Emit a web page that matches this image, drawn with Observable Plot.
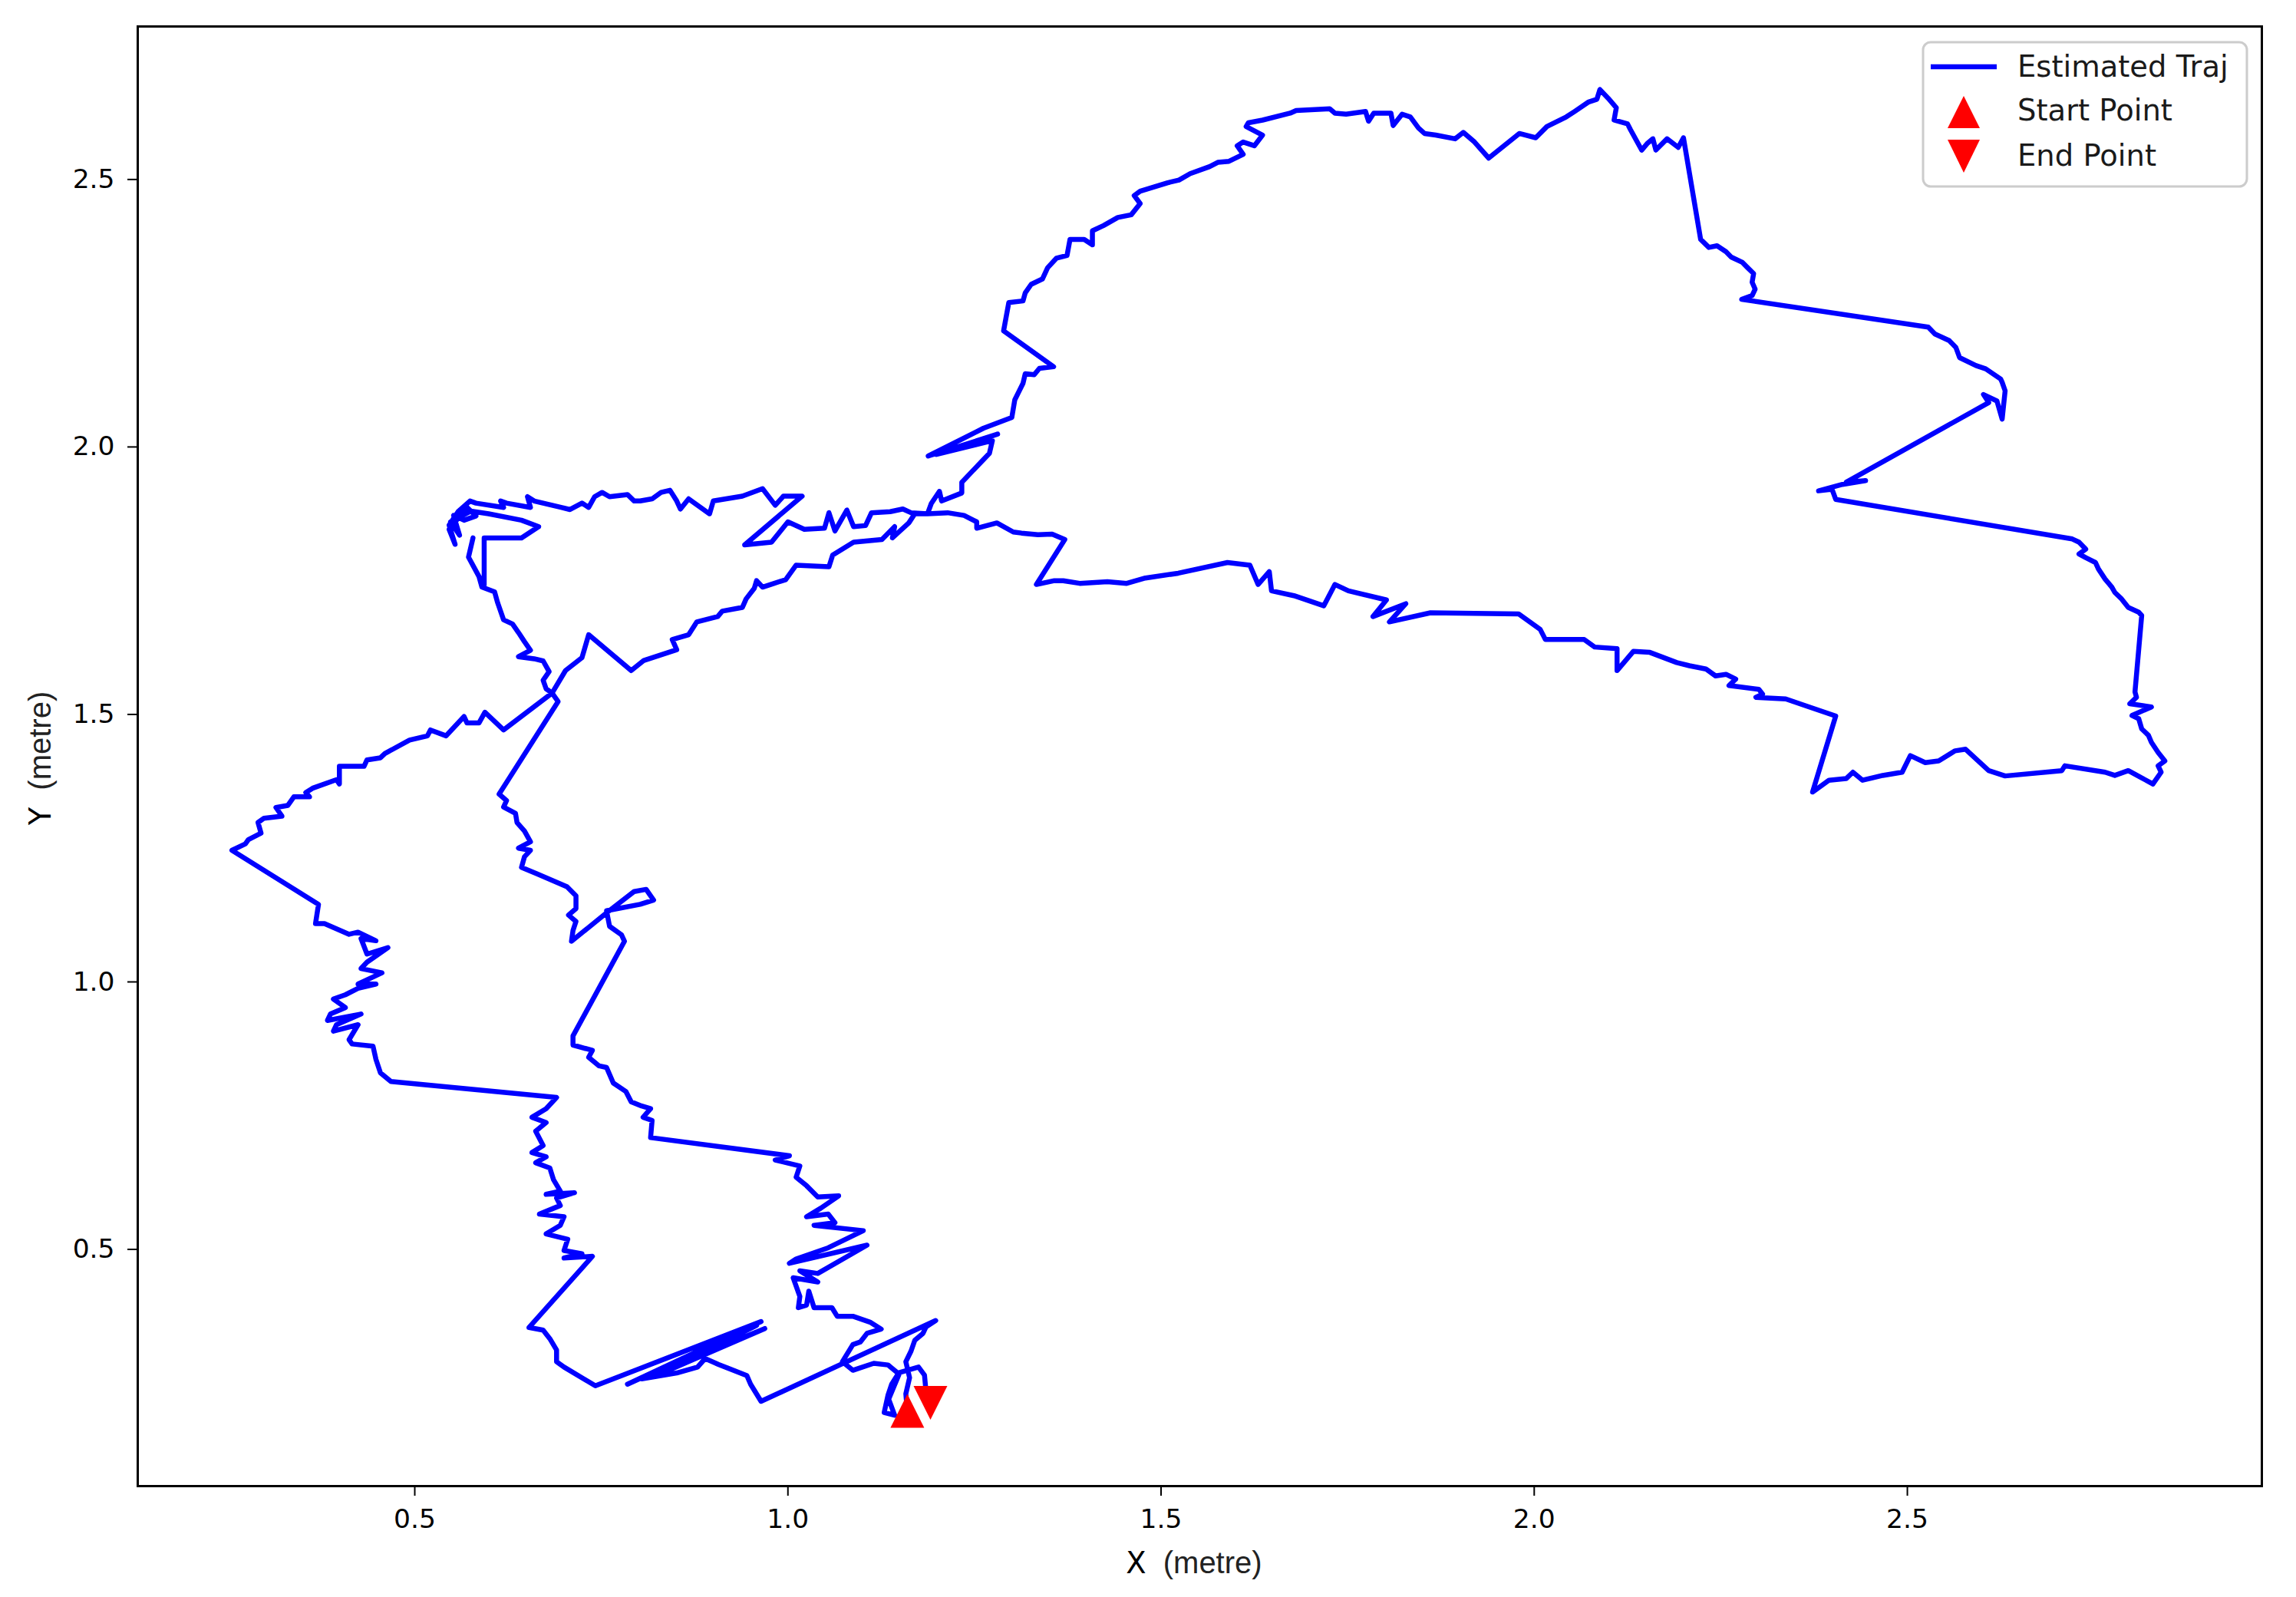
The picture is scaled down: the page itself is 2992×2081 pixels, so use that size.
<!DOCTYPE html>
<html>
<head>
<meta charset="utf-8">
<script src="https://cdn.jsdelivr.net/npm/d3@7"></script>
<script src="https://cdn.jsdelivr.net/npm/@observablehq/plot@0.6"></script>
<style>
  html, body { margin: 0; padding: 0; background: #ffffff; }
  #chart svg { display: block; }
</style>
</head>
<body>
<div id="chart"></div>
<script>
// ---- Data, in metres ----
const xTicks = [0.5, 1.0, 1.5, 2.0, 2.5];
const yTicks = [0.5, 1.0, 1.5, 2.0, 2.5];
const xDomain = [0.1288, 2.975];
const yDomain = [0.0575, 2.786];

const startPoint = [1.160, 0.198];
const endPoint = [1.191, 0.213];

const legStart = [[1.160,0.198],[1.158,0.230],[1.163,0.260],[1.158,0.290],[1.165,0.310],[1.170,0.330],[1.181,0.343],[1.185,0.355],[1.198,0.367]];

const legBottom = [[0.964,0.216],[0.950,0.248],[0.945,0.264],[0.907,0.285],[0.889,0.296],[0.879,0.280],[0.851,0.269],[0.804,0.258],[0.969,0.352],[0.820,0.262],[0.958,0.358],[0.785,0.248],[0.964,0.365],[0.742,0.245],[0.700,0.280],[0.690,0.290],[0.690,0.312],[0.681,0.333],[0.672,0.349],[0.653,0.354]];

const legLowerLeft = [[0.738,0.487],[0.700,0.484],[0.724,0.492],[0.700,0.498],[0.705,0.519],[0.676,0.529],[0.695,0.545],[0.700,0.561],[0.667,0.566],[0.695,0.582],[0.690,0.596],[0.714,0.606],[0.676,0.603],[0.695,0.609],[0.686,0.630],[0.681,0.652],[0.662,0.662],[0.676,0.673],[0.657,0.681],[0.672,0.694],[0.662,0.721],[0.676,0.737],[0.657,0.747],[0.676,0.763],[0.690,0.784]];

const legLeft = [[0.468,0.814],[0.454,0.830],[0.448,0.855],[0.444,0.880],[0.416,0.884],[0.412,0.892],[0.424,0.920],[0.391,0.908],[0.395,0.920],[0.428,0.940],[0.383,0.928],[0.387,0.940],[0.407,0.952],[0.391,0.968],[0.407,0.976],[0.424,0.988],[0.448,0.996],[0.424,0.996],[0.456,1.017],[0.428,1.025],[0.436,1.037],[0.464,1.064],[0.436,1.052],[0.428,1.081],[0.448,1.077],[0.424,1.093],[0.412,1.089],[0.379,1.109],[0.367,1.109],[0.371,1.145],[0.255,1.246],[0.273,1.258],[0.277,1.266],[0.294,1.278],[0.290,1.298],[0.298,1.306],[0.322,1.310],[0.314,1.326],[0.330,1.330],[0.338,1.346],[0.359,1.346],[0.354,1.354],[0.363,1.362],[0.395,1.378],[0.399,1.370],[0.399,1.403],[0.432,1.403],[0.436,1.415],[0.454,1.419],[0.460,1.427],[0.493,1.452],[0.517,1.460],[0.521,1.471],[0.542,1.460],[0.566,1.496],[0.570,1.484],[0.586,1.484],[0.594,1.504],[0.619,1.471],[0.684,1.540]];

const legLowerArm = [[0.702,1.582],[0.724,1.606],[0.733,1.649],[0.790,1.582],[0.807,1.601],[0.829,1.611],[0.851,1.621],[0.845,1.640],[0.867,1.649],[0.878,1.673],[0.906,1.683],[0.912,1.693],[0.939,1.700],[0.944,1.716],[0.955,1.736],[0.958,1.750],[0.966,1.738],[0.997,1.752],[1.011,1.779],[1.055,1.776],[1.060,1.798],[1.088,1.822],[1.126,1.827],[1.143,1.851],[1.140,1.830],[1.162,1.858],[1.170,1.875],[1.187,1.875]];

const legMiddle = [[1.214,1.877],[1.236,1.872],[1.253,1.860],[1.253,1.848],[1.280,1.858],[1.302,1.841],[1.313,1.839],[1.335,1.836],[1.354,1.837],[1.371,1.827],[1.333,1.743],[1.357,1.750],[1.369,1.750],[1.391,1.745],[1.428,1.748],[1.454,1.745],[1.479,1.755],[1.523,1.764],[1.589,1.784],[1.619,1.779],[1.630,1.743],[1.645,1.767],[1.648,1.731],[1.678,1.722],[1.718,1.703],[1.733,1.743],[1.751,1.731],[1.802,1.714],[1.784,1.683],[1.828,1.707],[1.806,1.673],[1.861,1.690],[1.979,1.688],[2.008,1.659],[2.015,1.640],[2.067,1.640],[2.081,1.626],[2.111,1.623],[2.111,1.582],[2.133,1.618],[2.155,1.616],[2.191,1.597],[2.208,1.591],[2.230,1.585],[2.243,1.572],[2.257,1.575],[2.270,1.566],[2.261,1.554],[2.301,1.547],[2.306,1.538],[2.297,1.532],[2.337,1.529],[2.364,1.516],[2.404,1.497]];

const legRight = [[2.373,1.355],[2.395,1.377],[2.418,1.380],[2.427,1.392],[2.440,1.377],[2.467,1.386],[2.493,1.392],[2.504,1.423],[2.524,1.410],[2.542,1.413],[2.564,1.432],[2.578,1.435],[2.609,1.395],[2.631,1.385],[2.707,1.395],[2.711,1.404],[2.765,1.392],[2.778,1.386],[2.796,1.395],[2.829,1.370],[2.840,1.392],[2.836,1.404],[2.845,1.413],[2.836,1.429],[2.827,1.448],[2.823,1.461],[2.814,1.473],[2.810,1.492],[2.801,1.498],[2.827,1.514],[2.798,1.520],[2.807,1.532],[2.805,1.542],[2.814,1.685],[2.810,1.691],[2.796,1.700],[2.787,1.716],[2.778,1.728],[2.774,1.738],[2.765,1.753],[2.756,1.772],[2.752,1.784],[2.739,1.793],[2.730,1.800],[2.739,1.809],[2.730,1.822],[2.721,1.828]];

const legUpperRight = [[2.404,1.902],[2.399,1.921],[2.381,1.918],[2.413,1.930],[2.444,1.937],[2.418,1.934],[2.609,2.083],[2.602,2.098],[2.620,2.086],[2.627,2.052],[2.631,2.105],[2.627,2.121],[2.625,2.127],[2.605,2.146],[2.592,2.152],[2.570,2.167],[2.565,2.186],[2.556,2.199],[2.537,2.211],[2.528,2.224],[2.278,2.276],[2.292,2.283],[2.296,2.295],[2.292,2.308],[2.294,2.324],[2.286,2.335],[2.279,2.345],[2.264,2.355],[2.257,2.365],[2.245,2.376],[2.234,2.373],[2.223,2.388]];

const legTop = [[2.200,2.578],[2.193,2.560],[2.178,2.576],[2.163,2.555],[2.159,2.576],[2.152,2.568],[2.144,2.555],[2.129,2.593],[2.125,2.604],[2.107,2.611],[2.110,2.634],[2.099,2.652],[2.088,2.668],[2.084,2.650],[2.073,2.645],[2.054,2.627],[2.043,2.617],[2.017,2.599],[2.002,2.578],[1.980,2.586],[1.939,2.540],[1.920,2.570],[1.905,2.588],[1.894,2.576],[1.868,2.583],[1.853,2.586],[1.845,2.596],[1.834,2.617],[1.823,2.622],[1.811,2.601],[1.808,2.624],[1.785,2.624],[1.778,2.609],[1.774,2.627],[1.748,2.622],[1.733,2.624],[1.726,2.632],[1.681,2.629],[1.673,2.624],[1.636,2.611],[1.617,2.606],[1.614,2.599],[1.636,2.583],[1.625,2.563],[1.610,2.570],[1.602,2.563],[1.610,2.547],[1.591,2.534],[1.576,2.532],[1.565,2.524],[1.539,2.511],[1.524,2.499],[1.509,2.494],[1.472,2.478],[1.464,2.470],[1.472,2.455],[1.460,2.434],[1.442,2.429],[1.423,2.414],[1.408,2.404],[1.408,2.378],[1.397,2.388],[1.378,2.388],[1.374,2.358],[1.360,2.353],[1.348,2.335],[1.341,2.314],[1.326,2.304],[1.318,2.288],[1.315,2.273],[1.296,2.270],[1.289,2.217]];

const legUpperMid = [[1.356,2.150],[1.337,2.147],[1.330,2.135],[1.318,2.137],[1.315,2.119],[1.304,2.088],[1.300,2.055],[1.262,2.035],[1.188,1.983],[1.281,2.024],[1.199,1.986],[1.274,2.012],[1.270,1.988],[1.233,1.934],[1.233,1.914],[1.206,1.899],[1.203,1.917],[1.192,1.894],[1.187,1.875]];

const legUpperLeft = [[1.165,1.877],[1.154,1.884],[1.137,1.879],[1.112,1.877],[1.104,1.853],[1.088,1.851],[1.079,1.882],[1.063,1.843],[1.055,1.877],[1.049,1.848],[1.022,1.846],[1.000,1.860],[0.978,1.822],[0.942,1.817],[1.019,1.908],[0.994,1.908],[0.983,1.891],[0.966,1.922],[0.939,1.908],[0.900,1.899],[0.895,1.875],[0.867,1.903],[0.856,1.884],[0.851,1.899],[0.842,1.919],[0.830,1.915],[0.818,1.903],[0.802,1.899],[0.794,1.899],[0.785,1.911],[0.761,1.907],[0.751,1.915],[0.741,1.907],[0.733,1.887],[0.724,1.895],[0.708,1.883],[0.696,1.887],[0.660,1.899],[0.651,1.907],[0.655,1.887],[0.623,1.895],[0.615,1.899],[0.619,1.887],[0.582,1.895]];

const legCluster = [[0.574,1.899],[0.558,1.879],[0.546,1.854],[0.554,1.818],[0.546,1.846],[0.570,1.887],[0.582,1.871],[0.566,1.863],[0.552,1.872],[0.560,1.835],[0.548,1.860],[0.575,1.880],[0.599,1.875],[0.643,1.863],[0.666,1.851],[0.643,1.830],[0.593,1.830],[0.593,1.742],[0.586,1.758],[0.572,1.794],[0.578,1.830],[0.572,1.794],[0.586,1.758],[0.590,1.738]];

const legDown = [[0.607,1.729],[0.611,1.709],[0.619,1.677],[0.631,1.669],[0.639,1.653],[0.647,1.636],[0.655,1.620],[0.639,1.608],[0.660,1.604],[0.672,1.600],[0.680,1.580],[0.672,1.564],[0.676,1.548],[0.684,1.540]];

const legReturn = [[0.692,1.524],[0.613,1.351],[0.623,1.339],[0.619,1.327],[0.635,1.315],[0.637,1.298],[0.647,1.282],[0.655,1.262],[0.639,1.250],[0.655,1.246],[0.647,1.234],[0.643,1.214],[0.664,1.202],[0.704,1.178],[0.716,1.161],[0.716,1.137],[0.706,1.125],[0.716,1.113],[0.712,1.096],[0.710,1.076],[0.757,1.129],[0.794,1.169],[0.810,1.173],[0.820,1.153],[0.802,1.145],[0.757,1.133],[0.761,1.104],[0.777,1.088],[0.781,1.076],[0.712,0.899],[0.712,0.882],[0.738,0.872],[0.733,0.859],[0.747,0.843],[0.757,0.840],[0.766,0.811],[0.783,0.795],[0.790,0.776],[0.804,0.768],[0.816,0.763],[0.806,0.747],[0.818,0.741],[0.816,0.709],[1.002,0.675],[0.983,0.667],[1.016,0.656],[1.011,0.635],[1.025,0.619],[1.040,0.598],[1.068,0.600],[1.044,0.577],[1.025,0.561],[1.054,0.566],[1.063,0.550],[1.035,0.545],[1.101,0.535],[1.054,0.503],[1.011,0.482],[1.002,0.474],[1.106,0.508],[1.040,0.455],[1.016,0.460],[1.040,0.439],[1.007,0.447],[1.016,0.412],[1.014,0.391],[1.025,0.396],[1.028,0.422],[1.035,0.391],[1.059,0.391],[1.066,0.375],[1.087,0.375],[1.110,0.364],[1.125,0.351],[1.106,0.343],[1.097,0.327],[1.087,0.322],[1.073,0.290],[1.087,0.274],[1.115,0.287],[1.134,0.284],[1.148,0.268],[1.139,0.248],[1.134,0.227],[1.129,0.195],[1.143,0.190],[1.135,0.220],[1.150,0.270],[1.175,0.280],[1.183,0.265],[1.185,0.235],[1.191,0.213]];

const trajectory = [].concat(
  legStart, legBottom, legLowerLeft, legLeft, legLowerArm, legMiddle,
  legRight, legUpperRight, legTop, legUpperMid, legUpperLeft, legCluster,
  legDown, legReturn
);

// ---- Custom matplotlib-like triangle markers ----
const triangleUp = {
  draw(ctx, size) {
    const r = Math.sqrt(size / Math.PI);
    ctx.moveTo(0, -r); ctx.lineTo(r, r); ctx.lineTo(-r, r); ctx.closePath();
  }
};
const triangleDown = {
  draw(ctx, size) {
    const r = Math.sqrt(size / Math.PI);
    ctx.moveTo(0, r); ctx.lineTo(-r, -r); ctx.lineTo(r, -r); ctx.closePath();
  }
};

const BLUE = "#0000ff";
const RED = "#ff0000";
const fmt = d3.format(".1f");

const svg = Plot.plot({
  width: 2992,
  height: 2081,
  marginLeft: 179,
  marginRight: 45,
  marginTop: 34,
  marginBottom: 145,
  style: { fontFamily: "'DejaVu Sans', sans-serif", background: "#ffffff", color: "#000000" },
  x: { domain: xDomain },
  y: { domain: yDomain },
  marks: [
    Plot.axisX({ ticks: xTicks, tickFormat: fmt, tickSize: 13, tickPadding: 17, fontSize: 34.5, strokeWidth: 2, label: null, fill: "#000" }),
    Plot.axisY({ ticks: yTicks, tickFormat: fmt, tickSize: 13, tickPadding: 17, fontSize: 34.5, strokeWidth: 2, label: null, fill: "#000" }),
    Plot.line(trajectory, { x: d => d[0], y: d => d[1], stroke: BLUE, strokeWidth: 6.5, strokeLinejoin: "round", strokeLinecap: "square" }),
    Plot.dot([startPoint], { x: d => d[0], y: d => d[1], symbol: triangleUp, r: 22, fill: RED, stroke: "none" }),
    Plot.dot([endPoint], { x: d => d[0], y: d => d[1], symbol: triangleDown, r: 22, fill: RED, stroke: "none" }),
    Plot.frame({ stroke: "#000", strokeWidth: 3 })
  ]
});

document.getElementById("chart").appendChild(svg);

// ---- Axis labels and legend (decoration layered on the Plot SVG) ----
const s = d3.select(svg);

function axisLabel(g, letter) {
  g.append("tspan").attr("font-family", "'DejaVu Sans', sans-serif").attr("font-size", 38.5).attr("fill", "#000").text(letter);
  g.append("tspan").attr("dx", 22).attr("font-family", "'Liberation Sans', Arial, sans-serif").attr("font-size", 40).attr("fill", "#222").text("(metre)");
}
const xl = s.append("text").attr("x", 1556).attr("y", 2050).attr("text-anchor", "middle");
axisLabel(xl, "X");
const yl = s.append("text").attr("transform", "translate(66,988) rotate(-90)").attr("text-anchor", "middle");
axisLabel(yl, "Y");

const legendItems = ["Estimated Traj", "Start Point", "End Point"];
const lg = s.append("g").attr("text-anchor", "start");
lg.append("rect").attr("x", 2506).attr("y", 55).attr("width", 422).attr("height", 188).attr("rx", 10)
  .attr("fill", "#ffffff").attr("fill-opacity", 0.8).attr("stroke", "#cccccc").attr("stroke-width", 3);
lg.append("line").attr("x1", 2516).attr("x2", 2602).attr("y1", 87).attr("y2", 87)
  .attr("stroke", BLUE).attr("stroke-width", 6.5).attr("stroke-linecap", "butt");
lg.append("path").attr("d", "M2559,125L2580,167L2538,167Z").attr("fill", RED);
lg.append("path").attr("d", "M2538,182L2580,182L2559,225Z").attr("fill", RED);
const baselines = [100, 157, 216];
legendItems.forEach((t, i) => {
  lg.append("text").attr("x", 2629).attr("y", baselines[i]).attr("text-anchor", "start")
    .attr("font-family", "'DejaVu Sans', sans-serif").attr("font-size", 38.5).attr("fill", "#1a1a1a").text(t);
});
</script>
</body>
</html>
